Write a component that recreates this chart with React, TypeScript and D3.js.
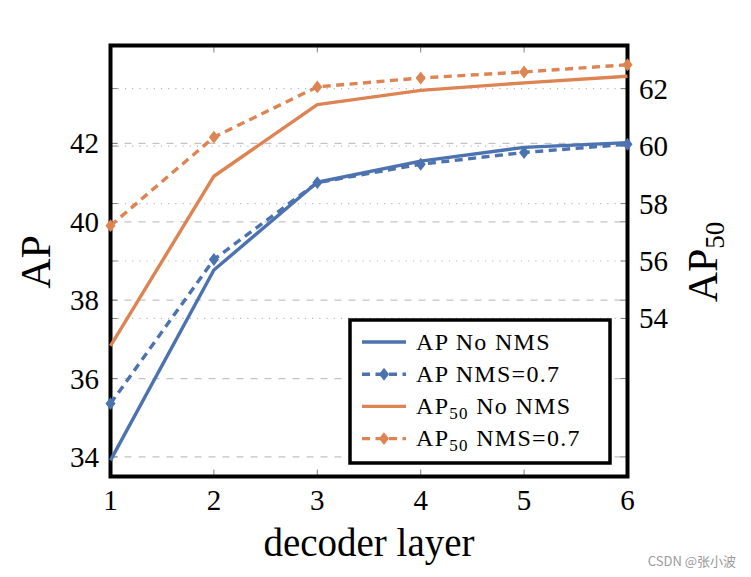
import React from "react";
import * as d3 from "d3";

const layers = [1, 2, 3, 4, 5, 6];
const apNoNms = [33.91, 38.77, 41.01, 41.55, 41.9, 42.02];
const apNms = [35.36, 39.04, 41.0, 41.47, 41.77, 41.98];
const ap50NoNms = [53.05, 58.95, 61.44, 61.94, 62.2, 62.43];
const ap50Nms = [57.23, 60.31, 62.06, 62.37, 62.58, 62.83];

const leftTicks = [34, 36, 38, 40, 42];
const rightTicks = [54, 56, 58, 60, 62];
const xTicks = [1, 2, 3, 4, 5, 6];

const BLUE = "#4C72B0";
const ORANGE = "#DD8452";
const SERIF = "'Liberation Serif', 'Times New Roman', serif";

const W = 751;
const H = 577;
const L = 110.5, R = 627.5, T = 45.5, B = 476.5;

export default function App() {
  const x = d3.scaleLinear().domain([1, 6]).range([L, R]);
  const yL = d3.scaleLinear().domain([33.5, 44.5]).range([B, T]);
  const yR = d3.scaleLinear().domain([48.5, 63.5]).range([B, T]);

  const lineL = d3.line<number>().x((_, i) => x(layers[i])).y((d) => yL(d));
  const lineR = d3.line<number>().x((_, i) => x(layers[i])).y((d) => yR(d));
  const diamond = d3.symbol().type(d3.symbolDiamond).size(48)();

  const series = [
    { label: "AP", sub: "", rest: " No NMS", color: BLUE, dashed: false, vals: apNoNms, gen: lineL, sc: yL },
    { label: "AP", sub: "", rest: " NMS=0.7", color: BLUE, dashed: true, vals: apNms, gen: lineL, sc: yL },
    { label: "AP", sub: "50", rest: " No NMS", color: ORANGE, dashed: false, vals: ap50NoNms, gen: lineR, sc: yR },
    { label: "AP", sub: "50", rest: " NMS=0.7", color: ORANGE, dashed: true, vals: ap50Nms, gen: lineR, sc: yR },
  ];

  const legX = 350, legY = 320, legW = 260, legH = 143;
  const rowY = (i: number) => 342 + i * 32.2;

  return (
    <svg width={W} height={H} style={{ position: "absolute", left: 0, top: 0, background: "#fff" }}>
      <rect x={0} y={0} width={W} height={H} fill="#fff" />
      {/* grid lines */}
      {leftTicks.map((t) => (
        <line key={"gl" + t} x1={L} x2={R} y1={yL(t)} y2={yL(t)} stroke="#c4c4c4" strokeWidth={1.2} strokeDasharray="7,7" />
      ))}
      {rightTicks.map((t) => (
        <line key={"gr" + t} x1={L} x2={R} y1={yR(t)} y2={yR(t)} stroke="#b8b8b8" strokeWidth={1.2} strokeDasharray="1.2,6" />
      ))}
      {/* tick marks */}
      {leftTicks.map((t) => (
        <g key={"tl" + t} stroke="#808080" strokeWidth={1}>
          <line x1={L} x2={L + 7} y1={yL(t)} y2={yL(t)} />
          <line x1={R - 7} x2={R} y1={yL(t)} y2={yL(t)} />
        </g>
      ))}
      {rightTicks.map((t) => (
        <g key={"tr" + t} stroke="#808080" strokeWidth={1}>
          <line x1={L} x2={L + 7} y1={yR(t)} y2={yR(t)} />
          <line x1={R - 7} x2={R} y1={yR(t)} y2={yR(t)} />
        </g>
      ))}
      {xTicks.map((t) => (
        <g key={"tx" + t} stroke="#808080" strokeWidth={1}>
          <line x1={x(t)} x2={x(t)} y1={B} y2={B - 7} />
          <line x1={x(t)} x2={x(t)} y1={T} y2={T + 7} />
        </g>
      ))}
      {/* frame */}
      <rect x={L} y={T} width={R - L} height={B - T} fill="none" stroke="#000" strokeWidth={4} />
      {/* data */}
      {series.map((s, si) => (
        <g key={"s" + si}>
          <path
            d={s.gen(s.vals) || ""}
            fill="none"
            stroke={s.color}
            strokeWidth={3.4}
            strokeDasharray={s.dashed ? "8,5.5" : undefined}
            strokeLinejoin="round"
          />
          {s.dashed &&
            s.vals.map((v, i) => (
              <path
                key={i}
                d={diamond || ""}
                transform={`translate(${x(layers[i])},${s.sc(v)}) scale(1.35,1)`}
                fill={s.color}
              />
            ))}
        </g>
      ))}
      {/* tick labels */}
      {leftTicks.map((t) => (
        <text key={"ll" + t} x={99} y={yL(t) + 10} textAnchor="end" fontFamily={SERIF} fontSize={29} fill="#000">
          {t}
        </text>
      ))}
      {rightTicks.map((t) => (
        <text key={"rl" + t} x={639} y={yR(t) + 10} textAnchor="start" fontFamily={SERIF} fontSize={29} fill="#000">
          {t}
        </text>
      ))}
      {xTicks.map((t) => (
        <text key={"xl" + t} x={x(t)} y={510} textAnchor="middle" fontFamily={SERIF} fontSize={29} fill="#000">
          {t}
        </text>
      ))}
      {/* axis labels */}
      <text x={(L + R) / 2} y={556} textAnchor="middle" fontFamily={SERIF} fontSize={39} fill="#000">
        decoder layer
      </text>
      <text transform="translate(50,262) rotate(-90)" textAnchor="middle" fontFamily={SERIF} fontSize={42} fill="#000">
        AP
      </text>
      <text transform="translate(717,262) rotate(-90)" textAnchor="middle" fontFamily={SERIF} fontSize={42} fill="#000">
        AP
        <tspan fontSize={27} dy={7}>50</tspan>
      </text>
      {/* legend */}
      <rect x={legX} y={legY} width={legW} height={legH} fill="#fff" stroke="#000" strokeWidth={3.5} />
      {series.map((s, i) => (
        <g key={"lg" + i}>
          <line
            x1={362}
            x2={406}
            y1={rowY(i)}
            y2={rowY(i)}
            stroke={s.color}
            strokeWidth={3.4}
            strokeDasharray={s.dashed ? "8,5.5" : undefined}
          />
          {s.dashed && (
            <path d={diamond || ""} transform={`translate(384,${rowY(i)}) scale(1.35,1)`} fill={s.color} />
          )}
          <text x={416} y={rowY(i) + 7.5} fontFamily={SERIF} fontSize={24} letterSpacing={1.3} fill="#000">
            {s.label}
            {s.sub ? (
              <>
                <tspan fontSize={17} dy={5}>{s.sub}</tspan>
                <tspan dy={-5}>{s.rest}</tspan>
              </>
            ) : (
              s.rest
            )}
          </text>
        </g>
      ))}
      {/* watermark */}
      <text x={736} y={566} textAnchor="end" fontFamily="'Noto Sans CJK SC', 'Noto Sans', sans-serif" fontSize={13} fill="#9a9a9a">
        CSDN @张小波
      </text>
    </svg>
  );
}
